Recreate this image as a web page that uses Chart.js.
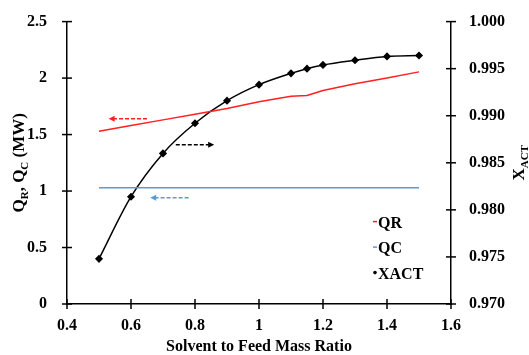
<!DOCTYPE html>
<html>
<head>
<meta charset="utf-8">
<script src="https://cdn.jsdelivr.net/npm/chart.js@4.4.1/dist/chart.umd.min.js"></script>
<style>
  html, body { margin: 0; padding: 0; background: #fff; }
  #wrap { width: 529px; height: 355px; }
</style>
</head>
<body>
<div id="wrap"><canvas id="chart" width="529" height="355"></canvas></div>
<script>
// data
const ratio = [0.5, 0.6, 0.7, 0.8, 0.9, 1.0, 1.1, 1.15, 1.2, 1.3, 1.4, 1.5];
const qr = [1.53, 1.58, 1.63, 1.68, 1.73, 1.79, 1.84, 1.845, 1.89, 1.95, 2.00, 2.055];
const qc = [1.03, 1.03, 1.03, 1.03, 1.03, 1.03, 1.03, 1.03, 1.03, 1.03, 1.03, 1.03];
const xact = [0.9748, 0.9814, 0.9860, 0.9892, 0.9916, 0.9933, 0.9945, 0.9950, 0.9954, 0.9959, 0.9963, 0.9964];

const xTicks = ['0.4', '0.6', '0.8', '1', '1.2', '1.4', '1.6'];
const qTicks = ['0', '0.5', '1', '1.5', '2', '2.5'];
const xactTicks = ['0.970', '0.975', '0.980', '0.985', '0.990', '0.995', '1.000'];

const FONT = '"Liberation Serif", "Times New Roman", serif';
const tickFont = { family: FONT, size: 16, weight: 'bold' };

// annotation arrows (which way each curve reads)
const arrows = [
  { from: [0.65, 1.64], to: [0.53, 1.64], axis: 'y', color: '#ff2020' },
  { from: [0.74, 1.41], to: [0.86, 1.41], axis: 'y', color: '#000000' },
  { from: [0.78, 0.94], to: [0.66, 0.94], axis: 'y', color: '#5b9bd5' }
];

const axisDeco = {
  id: 'axisDeco',
  afterDraw(chart) {
    const ctx = chart.ctx;
    const a = chart.chartArea;
    const sx = chart.scales.x, sy = chart.scales.y, sy2 = chart.scales.y2;
    ctx.save();
    ctx.strokeStyle = '#000';
    ctx.lineWidth = 1.5;
    // crossing tick marks
    sx.ticks.forEach(t => {
      const p = sx.getPixelForValue(t.value);
      ctx.beginPath(); ctx.moveTo(p, a.bottom - 5); ctx.lineTo(p, a.bottom + 5); ctx.stroke();
    });
    sy.ticks.forEach(t => {
      const p = sy.getPixelForValue(t.value);
      ctx.beginPath(); ctx.moveTo(a.left - 5, p); ctx.lineTo(a.left + 5, p); ctx.stroke();
    });
    sy2.ticks.forEach(t => {
      const p = sy2.getPixelForValue(t.value);
      ctx.beginPath(); ctx.moveTo(a.right - 5, p); ctx.lineTo(a.right + 5, p); ctx.stroke();
    });

    // dashed arrows
    arrows.forEach(ar => {
      const ys = chart.scales[ar.axis];
      const x1 = sx.getPixelForValue(ar.from[0]), y1 = ys.getPixelForValue(ar.from[1]);
      const x2 = sx.getPixelForValue(ar.to[0]), y2 = ys.getPixelForValue(ar.to[1]);
      const dir = Math.sign(x2 - x1);
      ctx.strokeStyle = ar.color;
      ctx.fillStyle = ar.color;
      ctx.lineWidth = 1.5;
      ctx.setLineDash([4, 2]);
      ctx.beginPath(); ctx.moveTo(x1, y1); ctx.lineTo(x2 - dir * 4, y2); ctx.stroke();
      ctx.setLineDash([]);
      ctx.beginPath();
      ctx.moveTo(x2, y2);
      ctx.lineTo(x2 - dir * 6, y2 - 3);
      ctx.lineTo(x2 - dir * 6, y2 + 3);
      ctx.closePath();
      ctx.fill();
    });

    // axis titles with subscripts
    ctx.fillStyle = '#000';
    ctx.textBaseline = 'alphabetic';
    ctx.font = 'bold 16px ' + FONT;
    ctx.textAlign = 'center';
    ctx.fillText('Solvent to Feed Mass Ratio', (a.left + a.right) / 2, 351);

    const drawSub = (parts, cx, cy, rot) => {
      ctx.save();
      ctx.translate(cx, cy);
      ctx.rotate(rot);
      let w = 0;
      parts.forEach(p => {
        ctx.font = (p.sub ? 'bold 11px ' : 'bold 17px ') + FONT;
        w += ctx.measureText(p.t).width;
      });
      let x = -w / 2;
      ctx.textAlign = 'left';
      parts.forEach(p => {
        ctx.font = (p.sub ? 'bold 11px ' : 'bold 17px ') + FONT;
        ctx.fillText(p.t, x, p.sub ? 9 : 5);
        x += ctx.measureText(p.t).width;
      });
      ctx.restore();
    };
    const midY = (a.top + a.bottom) / 2;
    drawSub([{ t: 'Q' }, { t: 'R', sub: true }, { t: ', Q' }, { t: 'C', sub: true }, { t: ' (MW)' }],
      19, midY, -Math.PI / 2);
    drawSub([{ t: 'X' }, { t: 'ACT', sub: true }], 519, midY, -Math.PI / 2);

    // legend
    const lx = a.right - 73;
    let ly = a.top + 200;
    chart.data.datasets.forEach(ds => {
      ctx.fillStyle = ds.borderColor;
      if (ds.pointRadius > 0) {
        ctx.beginPath(); ctx.arc(lx - 3, ly, 1.8, 0, Math.PI * 2); ctx.fill();
      } else {
        ctx.fillRect(lx - 5, ly - 0.75, 4, 1.5);
      }
      ctx.fillStyle = '#000';
      ctx.font = 'bold 16px ' + FONT;
      ctx.textAlign = 'left';
      ctx.fillText(ds.label, lx, ly + 6);
      ly += 25.5;
    });
    ctx.restore();
  }
};

new Chart(document.getElementById('chart'), {
  type: 'line',
  data: {
    datasets: [
      {
        label: 'QR',
        data: ratio.map((r, i) => ({ x: r, y: qr[i] })),
        borderColor: '#ff2020',
        borderWidth: 1.5,
        pointRadius: 0,
        tension: 0,
        yAxisID: 'y'
      },
      {
        label: 'QC',
        data: ratio.map((r, i) => ({ x: r, y: qc[i] })),
        borderColor: '#5b9bd5',
        borderWidth: 1.5,
        pointRadius: 0,
        tension: 0,
        yAxisID: 'y'
      },
      {
        label: 'XACT',
        data: ratio.map((r, i) => ({ x: r, y: xact[i] })),
        borderColor: '#000000',
        backgroundColor: '#000000',
        borderWidth: 1.5,
        pointStyle: 'rectRot',
        pointRadius: 3,
        cubicInterpolationMode: 'monotone',
        yAxisID: 'y2'
      }
    ]
  },
  options: {
    responsive: false,
    animation: false,
    layout: { padding: { top: 20, left: 0, right: 0, bottom: 0 } },
    plugins: {
      legend: { display: false },
      tooltip: { enabled: false }
    },
    scales: {
      x: {
        type: 'linear',
        min: 0.4, max: 1.6,
        grid: { display: false },
        border: { display: true, color: '#000', width: 1.5 },
        ticks: {
          stepSize: 0.2,
          color: '#000',
          font: tickFont,
          padding: 4,
          maxRotation: 0,
          callback: (v, i) => xTicks[i]
        },
        afterFit: s => { s.height = 51; }
      },
      y: {
        position: 'left',
        min: 0, max: 2.5,
        grid: { display: false },
        border: { display: true, color: '#000', width: 1.5 },
        ticks: {
          stepSize: 0.5,
          color: '#000',
          font: tickFont,
          padding: 12,
          callback: (v, i) => qTicks[i]
        },
        afterFit: s => { s.width = 67; }
      },
      y2: {
        position: 'right',
        min: 0.97, max: 1.0,
        grid: { display: false },
        border: { display: true, color: '#000', width: 1.5 },
        ticks: {
          stepSize: 0.005,
          color: '#000',
          font: tickFont,
          padding: 10,
          callback: (v, i) => xactTicks[i]
        },
        afterFit: s => { s.width = 78; }
      }
    }
  },
  plugins: [axisDeco]
});
</script>
</body>
</html>
